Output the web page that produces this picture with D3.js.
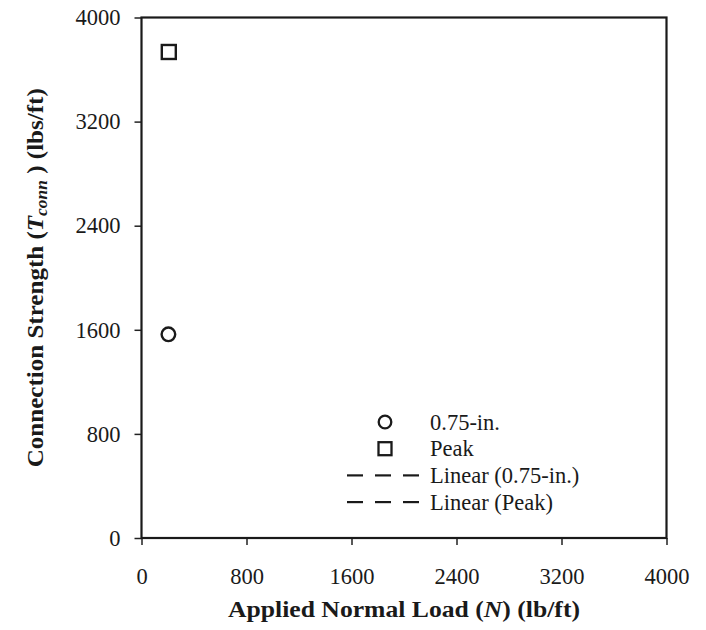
<!DOCTYPE html>
<html>
<head>
<meta charset="utf-8">
<script src="https://cdn.jsdelivr.net/npm/d3@7"></script>
<style>
  body { margin: 0; background: #fff; }
  text { font-family: "Liberation Serif", "Times New Roman", serif; fill: #1a1a1a; }
</style>
</head>
<body>
<script>
// data
const load075 = [205];
const conn075 = [1565];
const loadPeak = [208];
const connPeak = [3735];
const xTicks = [0, 800, 1600, 2400, 3200, 4000];
const yTicks = [0, 800, 1600, 2400, 3200, 4000];
const legendLabels = ["0.75-in.", "Peak", "Linear (0.75-in.)", "Linear (Peak)"];

const width = 706, height = 630;
const margin = { top: 17.5, right: 39.5, bottom: 92, left: 141.5 };
const w = width - margin.left - margin.right;
const h = height - margin.top - margin.bottom;

const svg = d3.select("body").append("svg")
  .attr("width", width)
  .attr("height", height);

const g = svg.append("g").attr("transform", `translate(${margin.left},${margin.top})`);

const x = d3.scaleLinear().domain([0, 4000]).range([0, w]);
const y = d3.scaleLinear().domain([0, 4000]).range([h, 0]);

// axes
const xAxis = g.append("g").attr("transform", `translate(0,${h})`)
  .call(d3.axisBottom(x).tickValues(xTicks).tickSize(7).tickPadding(23).tickFormat(d3.format("d")));
const yAxis = g.append("g")
  .call(d3.axisLeft(y).tickValues(yTicks).tickSize(7).tickPadding(14).tickFormat(d3.format("d")));

[xAxis, yAxis].forEach(a => {
  a.select(".domain").remove();
  a.selectAll("line").attr("stroke", "#222").attr("stroke-width", 1.5);
  a.selectAll("text").attr("font-size", 22.5).attr("fill", "#1a1a1a")
    .attr("font-family", "Liberation Serif, serif");
});

// frame
g.append("rect")
  .attr("x", 0).attr("y", 0)
  .attr("width", w).attr("height", h)
  .attr("fill", "none")
  .attr("stroke", "#1a1a1a")
  .attr("stroke-width", 2.2);

// points
g.selectAll("circle.p075")
  .data(load075.map((d, i) => [d, conn075[i]]))
  .enter().append("circle")
  .attr("class", "p075")
  .attr("cx", d => x(d[0]))
  .attr("cy", d => y(d[1]))
  .attr("r", 6.8)
  .attr("fill", "none")
  .attr("stroke", "#1a1a1a")
  .attr("stroke-width", 2.4);

g.selectAll("rect.peak")
  .data(loadPeak.map((d, i) => [d, connPeak[i]]))
  .enter().append("rect")
  .attr("class", "peak")
  .attr("x", d => x(d[0]) - 7)
  .attr("y", d => y(d[1]) - 7)
  .attr("width", 14).attr("height", 14)
  .attr("fill", "none")
  .attr("stroke", "#1a1a1a")
  .attr("stroke-width", 2.4);

// legend
const leg = svg.append("g").attr("transform", "translate(385,422)");
const rowH = 26.7;
legendLabels.forEach((lab, i) => {
  const row = leg.append("g").attr("transform", `translate(0,${i * rowH})`);
  if (i === 0) {
    row.append("circle").attr("r", 6.3).attr("fill", "none")
      .attr("stroke", "#1a1a1a").attr("stroke-width", 2.3);
  } else if (i === 1) {
    row.append("rect").attr("x", -6.5).attr("y", -6.5).attr("width", 13).attr("height", 13)
      .attr("fill", "none").attr("stroke", "#1a1a1a").attr("stroke-width", 2.3);
  } else {
    // three short dashes
    row.selectAll("line").data(d3.range(3)).enter().append("line")
      .attr("x1", k => -38 + k * 28).attr("x2", k => -38 + k * 28 + 16)
      .attr("stroke", "#1a1a1a").attr("stroke-width", 2.2);
  }
  row.append("text")
    .attr("x", 45).attr("y", 7.5)
    .attr("font-size", 22.5)
    .text(lab);
});

// axis titles
svg.append("text")
  .attr("x", margin.left + w / 2).attr("y", 617)
  .attr("text-anchor", "middle")
  .attr("font-size", 23).attr("font-weight", "bold")
  .attr("textLength", 352).attr("lengthAdjust", "spacingAndGlyphs")
  .call(t => {
    t.append("tspan").text("Applied Normal Load (");
    t.append("tspan").attr("font-style", "italic").text("N");
    t.append("tspan").text(") (lb/ft)");
  });

svg.append("text")
  .attr("transform", `translate(43,${margin.top + h / 2}) rotate(-90)`)
  .attr("text-anchor", "middle")
  .attr("font-size", 23).attr("font-weight", "bold")
  .attr("textLength", 379).attr("lengthAdjust", "spacingAndGlyphs")
  .call(t => {
    t.append("tspan").text("Connection Strength (");
    t.append("tspan").attr("font-style", "italic").text("T");
    t.append("tspan").attr("font-style", "italic").attr("font-size", 16).attr("dy", 4).text("conn");
    t.append("tspan").attr("dy", -4).text(" ) (lbs/ft)");
  });
</script>
</body>
</html>
